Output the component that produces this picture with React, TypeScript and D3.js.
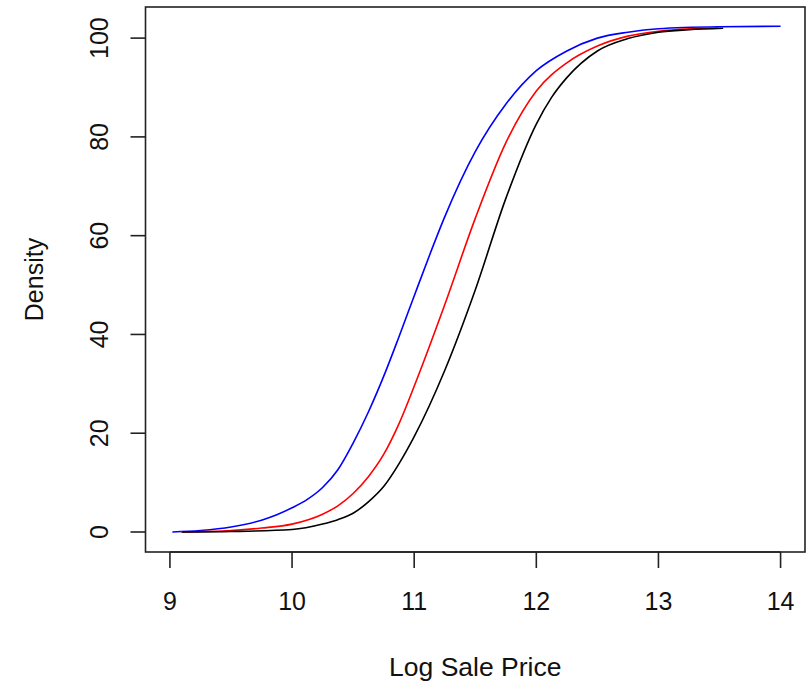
import React from "react";
import * as d3 from "d3";

// Series (x = log sale price, y = cumulative density)
const blueX = [9.02, 9.25, 9.5, 9.75, 9.875, 10.0, 10.125, 10.25, 10.375, 10.5, 10.625, 10.75, 10.875, 11.0, 11.125, 11.25, 11.5, 11.75, 12.0, 12.25, 12.5, 12.75, 13.0, 13.5, 14.0];
const blueY = [0, 0.3, 1.0, 2.4, 3.5, 4.9, 6.6, 9.0, 12.6, 18.0, 24.3, 31.5, 39.5, 47.8, 56.0, 63.8, 77.0, 86.6, 93.4, 97.4, 100.0, 101.2, 101.9, 102.3, 102.4];

const redX = [9.09, 9.5, 9.75, 10.0, 10.25, 10.375, 10.5, 10.625, 10.75, 10.875, 11.0, 11.25, 11.5, 11.75, 12.0, 12.25, 12.5, 12.75, 13.0, 13.25, 13.49];
const redY = [0, 0.3, 0.8, 1.6, 3.6, 5.3, 7.8, 11.2, 15.7, 21.9, 29.5, 46.0, 63.5, 78.8, 89.3, 95.0, 98.4, 100.4, 101.4, 101.9, 102.1];

const blackX = [9.1, 9.5, 10.0, 10.25, 10.375, 10.5, 10.625, 10.75, 10.875, 11.0, 11.25, 11.5, 11.75, 12.0, 12.125, 12.25, 12.5, 12.75, 13.0, 13.25, 13.53];
const blackY = [0, 0.1, 0.5, 1.6, 2.5, 3.8, 6.1, 9.2, 13.8, 19.3, 32.7, 49.0, 67.5, 82.6, 88.0, 92.0, 97.4, 99.9, 101.2, 101.7, 102.0];

const xTicks = [9, 10, 11, 12, 13, 14];
const yTicks = [0, 20, 40, 60, 80, 100];
const xTitle = "Log Sale Price";
const yTitle = "Density";

const W = 807;
const H = 684;
const L = 145.5, R = 805, T = 7, B = 552;

const FONT = "'Liberation Sans', Arial, sans-serif";

export default function App() {
  const x = d3.scaleLinear().domain([8.8, 14.2]).range([L, R]);
  const y = d3.scaleLinear().domain([-4.05, 106.3]).range([B, T]);

  const line = d3
    .line<[number, number]>()
    .x((d) => x(d[0]))
    .y((d) => y(d[1]))
    .curve(d3.curveMonotoneX);

  const series = [
    { xs: blueX, ys: blueY, color: "#0000ff" },
    { xs: redX, ys: redY, color: "#ff0000" },
    { xs: blackX, ys: blackY, color: "#000000" },
  ];

  return (
    <svg
      width={W}
      height={H}
      style={{ position: "absolute", left: 0, top: 0, background: "#fff" }}
      fontFamily={FONT}
    >
      <rect x={0} y={0} width={W} height={H} fill="#fff" />
      {series.map((s, i) => (
        <path
          key={i}
          d={line(s.xs.map((v, j) => [v, s.ys[j]] as [number, number])) || ""}
          fill="none"
          stroke={s.color}
          strokeWidth={1.6}
        />
      ))}
      <rect x={L} y={T} width={R - L} height={B - T} fill="none" stroke="#222" strokeWidth={1.6} />
      {/* x axis */}
      <line x1={x(xTicks[0])} x2={x(xTicks[xTicks.length - 1])} y1={B} y2={B} stroke="#222" strokeWidth={1.6} />
      {xTicks.map((t) => (
        <g key={t}>
          <line x1={x(t)} x2={x(t)} y1={B} y2={B + 16} stroke="#222" strokeWidth={1.6} />
          <text x={x(t)} y={610} textAnchor="middle" fontSize={25} fill="#111">
            {t}
          </text>
        </g>
      ))}
      {/* y axis */}
      {yTicks.map((t) => (
        <g key={t}>
          <line x1={L - 15} x2={L} y1={y(t)} y2={y(t)} stroke="#222" strokeWidth={1.6} />
          <text
            transform={`translate(108,${y(t)}) rotate(-90)`}
            textAnchor="middle"
            fontSize={25}
            fill="#111"
          >
            {t}
          </text>
        </g>
      ))}
      <text x={(L + R) / 2} y={676} textAnchor="middle" fontSize={26.5} fill="#111">
        {xTitle}
      </text>
      <text
        transform={`translate(43,${(T + B) / 2}) rotate(-90)`}
        textAnchor="middle"
        fontSize={25}
        fill="#111"
      >
        {yTitle}
      </text>
    </svg>
  );
}
